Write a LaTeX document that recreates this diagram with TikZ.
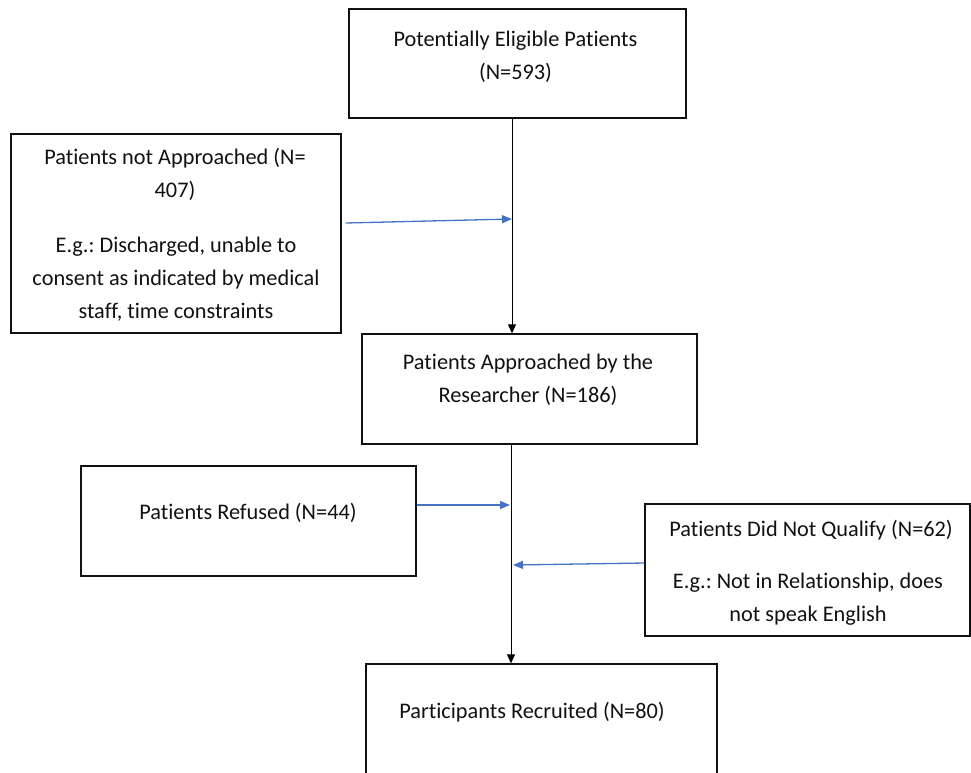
\documentclass[tikz,border=0pt]{standalone}
\usepackage{fontspec}
\setmainfont[Ligatures=NoCommon]{Carlito}
\usetikzlibrary{arrows.meta}
\definecolor{flowblue}{HTML}{4472C4}
\definecolor{ink}{HTML}{111111}
\frenchspacing
\tikzset{
  box/.style={draw=ink, line width=1.3pt, rectangle, inner sep=0pt},
  txt/.style={text=ink, font=\fontsize{22.3}{33}\selectfont, align=center, inner sep=0pt},
  mainarrow/.style={draw=black, line width=1pt, -{Triangle[length=9pt,width=8pt]}},
  sidearrow/.style={draw=flowblue, line width=1.3pt, -{Triangle[length=10pt,width=8pt]}}
}
\begin{document}
\begin{tikzpicture}[x=1pt,y=-1pt]
\useasboundingbox (0,0) rectangle (971,772);
% boxes
\node[box, minimum width=337pt, minimum height=109pt] (b1) at (517.5,63.5) {};
\node[box, minimum width=330pt, minimum height=199pt] (b2) at (176,233.5) {};
\node[box, minimum width=335pt, minimum height=110pt] (b3) at (529.5,389) {};
\node[box, minimum width=335pt, minimum height=110pt] (b4) at (248.5,521) {};
\node[box, minimum width=325pt, minimum height=132pt] (b5) at (807.5,570) {};
\node[box, minimum width=351pt, minimum height=140pt] (b6) at (541.5,734) {};
% texts
\node[txt] (t1) at (515.5,56.5) {Potentially Eligible Patients\\(N=593)};
\node[txt] (t2a) at (175,174.5) {Patients not Approached (N=\\407)};
\node[txt] (t2b) at (176,279) {E.g.: Discharged, unable to\\consent as indicated by medical\\staff, time constraints};
\node[txt] (t3) at (528,379.5) {Patients Approached by the\\Researcher (N=186)};
\node[txt] (t4) at (248,513) {Patients Refused (N=44)};
\node[txt] (t5a) at (811,530) {Patients Did Not Qualify (N=62)};
\node[txt] (t5b) at (808,599) {E.g.: Not in Relationship, does\\not speak English};
\node[txt] (t6) at (532,712) {Participants Recruited (N=80)};
% spine coordinates
\coordinate (s1) at (512,0);
\coordinate (s2) at (511,0);
\coordinate (j1) at (512,219);
\coordinate (j2) at (510,505);
\coordinate (j3) at (513,565);
% main flow
\draw[mainarrow] (b1.south -| s1) -- (b3.north -| s1);
\draw[mainarrow] (b3.south -| s2) -- (b6.north -| s2);
% side arrows
\draw[sidearrow] ([xshift=4pt,yshift=10.5pt]b2.east) -- (j1);
\draw[sidearrow] ([yshift=16pt]b4.east) -- (j2);
\draw[sidearrow] ([yshift=7pt]b5.west) -- (j3);
\end{tikzpicture}
\end{document}
